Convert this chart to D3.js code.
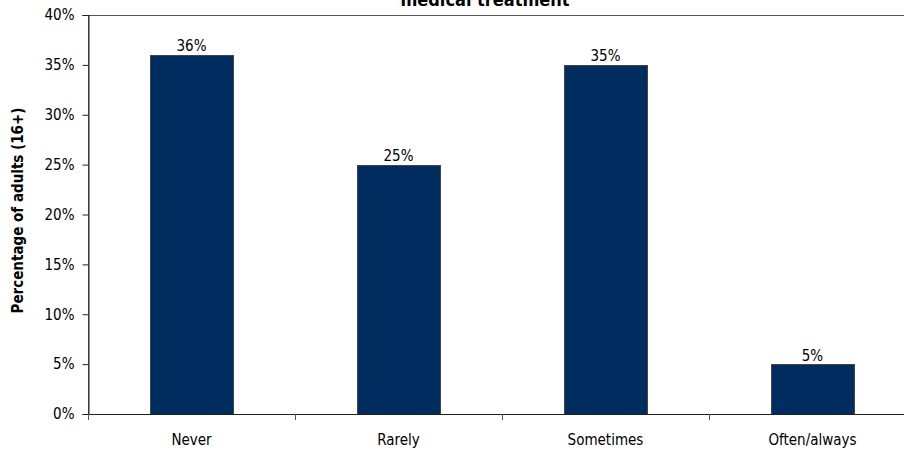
<!DOCTYPE html>
<html>
<head>
<meta charset="utf-8">
<script src="https://cdn.jsdelivr.net/npm/d3@7"></script>
<style>
  html, body { margin: 0; padding: 0; background: #fff; }
  svg { display: block; }
  text { font-family: "DejaVu Sans Condensed", "DejaVu Sans", sans-serif; fill: #000; }
</style>
</head>
<body>
<svg id="chart" width="904" height="450"></svg>
<script>
// Frequency categories and share of adults in each
const categories = ["Never", "Rarely", "Sometimes", "Often/always"];
const shares = [36, 25, 35, 5];
const yTicks = [0, 5, 10, 15, 20, 25, 30, 35, 40];
const titleText = "medical treatment";
const yLabel = "Percentage of adults (16+)";

const svg = d3.select("#chart");
const plot = { left: 88, top: 15, bottom: 414, width: 828 };
const fontSize = 15;

const x = d3.scaleBand()
  .domain(categories)
  .range([plot.left, plot.left + plot.width])
  .paddingInner(0.6)
  .paddingOuter(0.3);

const y = d3.scaleLinear().domain([0, 40]).range([plot.bottom, plot.top]);

// plot frame
svg.append("rect")
  .attr("x", plot.left + 0.5).attr("y", plot.top + 0.5)
  .attr("width", plot.width).attr("height", plot.bottom - plot.top)
  .attr("fill", "none").attr("stroke", "#555").attr("stroke-width", 1);

// bars
svg.selectAll("rect.bar")
  .data(categories)
  .enter().append("rect")
  .attr("class", "bar")
  .attr("x", d => Math.round(x(d)) + 0.5)
  .attr("y", (d, i) => Math.round(y(shares[i])) + 0.5)
  .attr("width", Math.round(x.bandwidth()))
  .attr("height", (d, i) => Math.round(y(0)) - Math.round(y(shares[i])))
  .attr("fill", "#002d5f")
  .attr("stroke", "#444")
  .attr("stroke-width", 1);

// value labels
svg.selectAll("text.val")
  .data(categories)
  .enter().append("text")
  .attr("class", "val")
  .attr("x", d => x(d) + x.bandwidth() / 2)
  .attr("y", (d, i) => y(shares[i]) - 3.5)
  .attr("text-anchor", "middle")
  .attr("font-size", fontSize)
  .text((d, i) => shares[i] + "%");

// y axis
const yAxis = d3.axisLeft(y)
  .tickValues(yTicks)
  .tickSize(6)
  .tickPadding(8)
  .tickFormat(d => d + "%");
const gy = svg.append("g")
  .attr("transform", `translate(${plot.left + 0.5},0)`)
  .call(yAxis);
gy.select(".domain").attr("stroke", "#222");
gy.selectAll(".tick line").attr("stroke", "#222");
gy.selectAll(".tick text").attr("font-size", fontSize).attr("font-family", null).attr("fill", "#000");

// x axis: ticks on category boundaries
const boundaries = d3.range(categories.length + 1).map(i => plot.left + i * x.step());
const gx = svg.append("g");
gx.append("line")
  .attr("x1", plot.left).attr("x2", plot.left + plot.width)
  .attr("y1", plot.bottom + 0.5).attr("y2", plot.bottom + 0.5)
  .attr("stroke", "#222");
gx.selectAll("line.tk")
  .data(boundaries)
  .enter().append("line")
  .attr("class", "tk")
  .attr("x1", d => Math.round(d) + 0.5).attr("x2", d => Math.round(d) + 0.5)
  .attr("y1", plot.bottom).attr("y2", plot.bottom + 6)
  .attr("stroke", "#555");
gx.selectAll("text")
  .data(categories)
  .enter().append("text")
  .attr("x", d => x(d) + x.bandwidth() / 2)
  .attr("y", 445)
  .attr("text-anchor", "middle")
  .attr("font-size", fontSize)
  .text(d => d);

// y axis title
svg.append("text")
  .attr("transform", `translate(23, ${(plot.top + plot.bottom) / 2 - 4}) rotate(-90)`)
  .attr("text-anchor", "middle")
  .attr("font-size", fontSize)
  .attr("font-weight", "bold")
  .text(yLabel);

// chart title (second line)
svg.append("text")
  .attr("x", 485)
  .attr("y", 6)
  .attr("text-anchor", "middle")
  .attr("font-size", 18)
  .attr("font-weight", "bold")
  .text(titleText);
</script>
</body>
</html>
